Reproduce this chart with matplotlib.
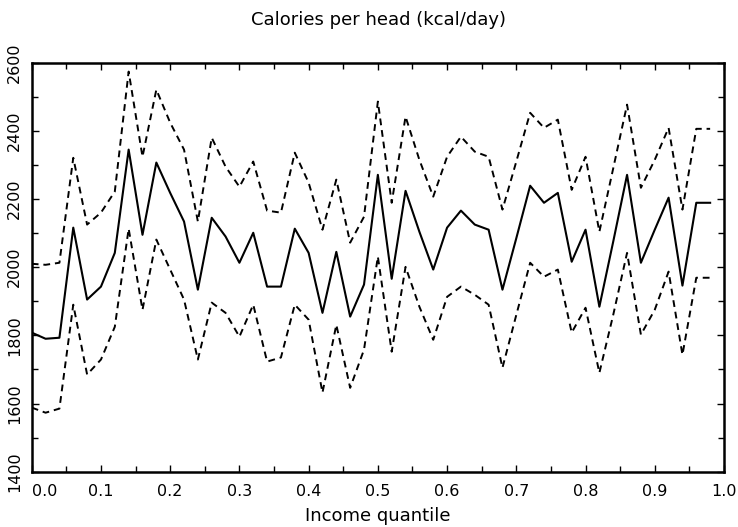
import numpy as np
import matplotlib
matplotlib.use("Agg")
import matplotlib.pyplot as plt
from matplotlib.ticker import MultipleLocator

# income quantile grid (0.00 .. 0.98 in steps of 0.02)
quantile = np.round(np.arange(50) * 0.02, 2)

# mean calories per head
kcal_mean = [1808, 1790, 1793, 2116, 1905, 1943, 2042, 2345, 2095, 2307,
             2218, 2134, 1934, 2145, 2090, 2013, 2101, 1943, 1943, 2113,
             2042, 1866, 2045, 1855, 1949, 2271, 1966, 2224, 2104, 1993,
             2116, 2166, 2125, 2110, 1934, 2085, 2239, 2189, 2218, 2016,
             2110, 1884, 2075, 2271, 2013, 2110, 2204, 1946, 2189, 2189]

# upper and lower confidence bands
kcal_upper = [2010, 2007, 2013, 2321, 2125, 2160, 2222, 2574, 2324, 2521,
              2424, 2345, 2134, 2380, 2295, 2236, 2310, 2166, 2160, 2336,
              2248, 2110, 2257, 2072, 2148, 2486, 2189, 2442, 2315, 2207,
              2324, 2383, 2339, 2324, 2169, 2310, 2453, 2409, 2433, 2227,
              2324, 2104, 2290, 2477, 2233, 2315, 2409, 2169, 2406, 2406]

kcal_lower = [1588, 1573, 1585, 1890, 1685, 1729, 1825, 2113, 1875, 2081,
              1993, 1905, 1729, 1896, 1866, 1796, 1890, 1723, 1735, 1890,
              1846, 1632, 1831, 1646, 1758, 2031, 1752, 2001, 1884, 1787,
              1913, 1943, 1919, 1890, 1705, 1860, 2013, 1972, 1993, 1808,
              1881, 1690, 1860, 2042, 1802, 1875, 1987, 1743, 1969, 1969]

fig = plt.figure(figsize=(7.38, 5.27), dpi=100)
ax = fig.add_axes([0.043, 0.105, 0.938, 0.776])

ax.plot(quantile, kcal_mean, color="black", lw=1.5)
for band in (kcal_upper, kcal_lower):
    ln, = ax.plot(quantile, band, color="black", lw=1.4)
    ln.set_dashes((3.5, 2.5))

ax.set_xlim(0.0, 1.0)
ax.set_ylim(1400, 2600)
ax.xaxis.set_major_locator(MultipleLocator(0.1))
ax.xaxis.set_minor_locator(MultipleLocator(0.05))
ax.yaxis.set_major_locator(MultipleLocator(200))
ax.yaxis.set_minor_locator(MultipleLocator(100))
ax.tick_params(which="both", direction="in", top=True, right=True,
               width=1.0, color="black")
ax.tick_params(which="major", length=5)
ax.tick_params(which="minor", length=4)
ax.tick_params(axis="x", pad=9, labelsize=11.5)
ax.tick_params(axis="y", pad=7, labelsize=11.5)
ax.set_xticks(np.round(np.arange(0, 1.01, 0.1), 1))
ax.set_xticklabels(["%.1f" % v for v in np.arange(0, 1.01, 0.1)])
ax.xaxis.get_majorticklabels()[0].set_horizontalalignment("left")
for lab in ax.get_yticklabels():
    lab.set_rotation(90)
    lab.set_verticalalignment("center")

for sp in ax.spines.values():
    sp.set_linewidth(1.8)

fig.text(0.513, 0.962, "Calories per head (kcal/day)", ha="center",
         va="center", fontsize=13)
fig.text(0.512, 0.02, "Income quantile", ha="center", va="center",
         fontsize=13)

fig.savefig("out.png", dpi=100)
